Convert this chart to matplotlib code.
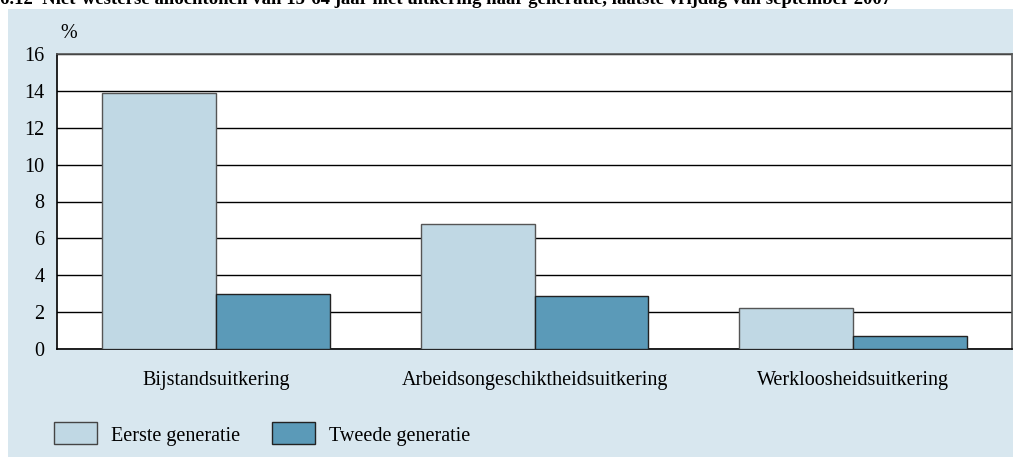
import numpy as np
import matplotlib.pyplot as plt
from matplotlib.patches import Rectangle

# Datos
categorias = ["Bijstandsuitkering", "Arbeidsongeschiktheidsuitkering", "Werkloosheidsuitkering"]
eerste = [13.9, 6.8, 2.2]
tweede = [3.0, 2.85, 0.7]
series = ["Eerste generatie", "Tweede generatie"]
yticks = [0, 2, 4, 6, 8, 10, 12, 14, 16]

titulo = "6.12  Niet-westerse allochtonen van 15-64 jaar met uitkering naar generatie, laatste vrijdag van september 2007"

claro = "#c0d8e4"
oscuro = "#5b9ab8"
fondo = "#d8e7ef"

plt.rcParams['font.family'] = ['Liberation Serif', 'DejaVu Serif']
fs = 14.5

W, H = 1013, 457
fig = plt.figure(figsize=(W / 100, H / 100), dpi=100)
fig.patch.set_facecolor("white")

# fondo azul claro
fig.patches.append(Rectangle((8 / W, 0), 1 - 8 / W, 1 - 9 / H, transform=fig.transFigure,
                             facecolor=fondo, edgecolor="none", zorder=-5))

# titulo cortado arriba (como en la imagen original)
fig.text(0.0, 1 - 4 / H, titulo, fontsize=13.5, fontweight="bold", va="baseline", ha="left")

ax = fig.add_axes([57 / W, 1 - 349 / H, (1012 - 57) / W, (349 - 54) / H])
ax.set_zorder(2)
ax.set_facecolor("white")

x = np.arange(len(categorias))
ancho = 0.358
ax.bar(x - ancho / 2, eerste, ancho, color=claro, edgecolor="#555555", linewidth=1, zorder=3)
ax.bar(x + ancho / 2, tweede, ancho, color=oscuro, edgecolor="#222222", linewidth=1, zorder=3)

ax.set_xlim(-0.5, 2.5)
ax.set_ylim(0, 16)
ax.set_yticks(yticks)
ax.set_yticklabels([str(t) for t in yticks], fontsize=fs)
ax.set_xticks(x)
ax.set_xticklabels(categorias, fontsize=fs)
ax.tick_params(axis="y", length=0, pad=15 - 6)
ax.tick_params(axis="x", length=0, pad=16)
ax.yaxis.grid(True, color="black", linewidth=1)
ax.set_axisbelow(True)
for s in ["left", "bottom"]:
    ax.spines[s].set_color("black")
    ax.spines[s].set_linewidth(1.2)
for s in ["top", "right"]:
    ax.spines[s].set_color("#555555")
    ax.spines[s].set_linewidth(1.2)

fig.text(69 / W, 1 - 33 / H, "%", fontsize=fs, va="center", ha="center")

# leyenda manual
for i, (nombre, col, borde) in enumerate(zip(series, [claro, oscuro], ["#444444", "#222222"])):
    x0 = [54, 272][i]
    fig.patches.append(Rectangle((x0 / W, 1 - 444 / H), 43 / W, 22 / H, transform=fig.transFigure,
                                 facecolor=col, edgecolor=borde, linewidth=1, zorder=2))
    fig.text((x0 + 57) / W, 1 - 436 / H, nombre, fontsize=fs, va="center", ha="left")

fig.savefig("out.png", dpi=100)
